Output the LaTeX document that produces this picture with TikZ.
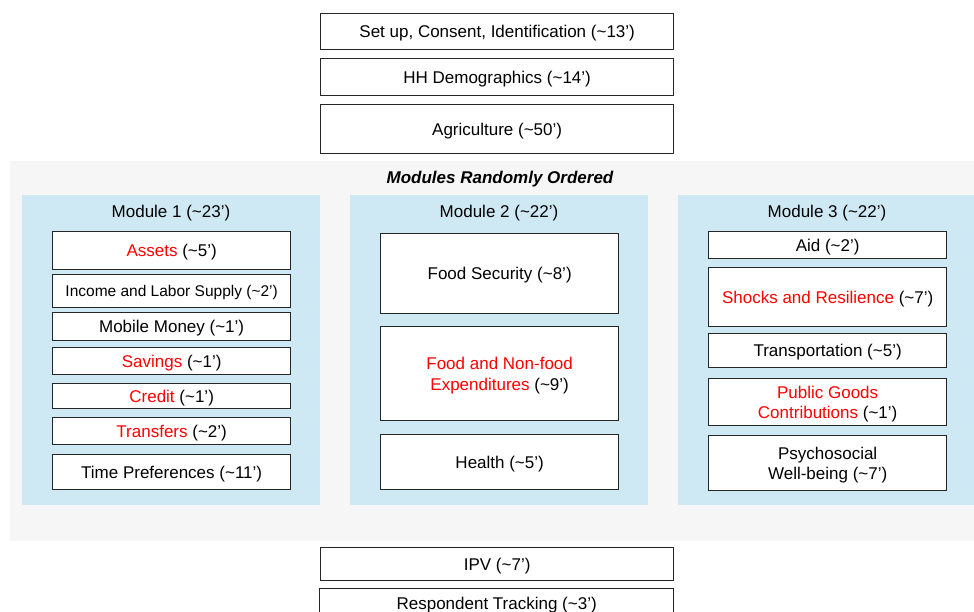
\documentclass[tikz,border=0pt]{standalone}
\usepackage{fontspec}
\setmainfont{Liberation Sans}
\usetikzlibrary{positioning}
\definecolor{panelblue}{RGB}{207,233,244}
\definecolor{shadegrey}{RGB}{246,246,246}
\tikzstyle{surveybox}=[draw=black!85, line width=1.3pt, fill=white, inner sep=0pt, text depth=0pt, align=center, anchor=north west, font=\fontsize{17}{20.5}\selectfont]
\tikzstyle{modulepanel}=[fill=panelblue, draw=none, inner sep=0pt, anchor=north west]
\tikzstyle{paneltitle}=[text depth=0pt, font=\fontsize{17}{20}\selectfont]
\newcommand{\surveymins}[1]{(\textasciitilde#1')}
\newcommand{\surveyitem}[6]{
\node[surveybox, minimum width=#4-#2, minimum height=#5-#3] (#1) at (#2,#3) {#6};
}
\newcommand{\modulepanel}[5]{
\node[modulepanel, minimum width=#4-#2, minimum height=#5-#3] (#1) at (#2,#3) {};
}

\begin{document}
\begin{tikzpicture}[x=1pt,y=-1pt]
	\clip (0,0) rectangle (974,612);
	\fill[white] (0,0) rectangle (974,612);
	% opening sections
	\surveyitem{setup}{320}{13}{673}{49}{Set up, Consent, Identification \surveymins{13}}
	\surveyitem{demog}{320}{58}{673}{95}{HH Demographics \surveymins{14}}
	\surveyitem{agri}{320}{104}{673}{153}{Agriculture \surveymins{50}}
	% randomised block
	\node[fill=shadegrey, inner sep=0pt, anchor=north west, minimum width=970, minimum height=380] (random) at (10,161) {};
	\node[paneltitle, font=\fontsize{17}{20}\selectfont\bfseries\itshape] (randtitle) at (500,177) {Modules Randomly Ordered};
	\modulepanel{modA}{22}{195}{320}{505}
	\modulepanel{modB}{350}{195}{648}{505}
	\modulepanel{modC}{678}{195}{980}{505}
	\node[paneltitle] (modAtitle) at (171,211) {Module 1 \surveymins{23}};
	\node[paneltitle] (modBtitle) at (499,211) {Module 2 \surveymins{22}};
	\node[paneltitle] (modCtitle) at (827,211) {Module 3 \surveymins{22}};
	% module 1
	\surveyitem{assets}{52}{231}{290}{269}{{\color{red}Assets} \surveymins{5}}
	\surveyitem{income}{52}{274}{290}{307}{\fontsize{15.5}{18}\selectfont Income and Labor Supply \surveymins{2}}
	\surveyitem{mobile}{52}{312}{290}{340}{Mobile Money \surveymins{1}}
	\surveyitem{savings}{52}{347}{290}{374}{{\color{red}Savings} \surveymins{1}}
	\surveyitem{credit}{52}{383}{290}{408}{{\color{red}Credit} \surveymins{1}}
	\surveyitem{transfers}{52}{417}{290}{444}{{\color{red}Transfers} \surveymins{2}}
	\surveyitem{timepref}{52}{454}{290}{489}{Time Preferences \surveymins{11}}
	% module 2
	\surveyitem{foodsec}{380}{233}{618}{313}{Food Security \surveymins{8}}
	\surveyitem{foodexp}{380}{326}{618}{420}{{\color{red}Food and Non-food}\\{\color{red}Expenditures} \surveymins{9}}
	\surveyitem{health}{380}{434}{618}{489}{Health \surveymins{5}}
	% module 3
	\surveyitem{aid}{708}{231}{946}{258}{Aid \surveymins{2}}
	\surveyitem{shocks}{708}{267}{946}{326}{{\color{red}Shocks and Resilience} \surveymins{7}}
	\surveyitem{transport}{708}{333}{946}{367}{Transportation \surveymins{5}}
	\surveyitem{pubgoods}{708}{378}{946}{425}{{\color{red}Public Goods}\\{\color{red}Contributions} \surveymins{1}}
	\surveyitem{psycho}{708}{435}{946}{490}{Psychosocial\\Well-being \surveymins{7}}
	% closing sections
	\surveyitem{ipv}{320}{547}{673}{580}{IPV \surveymins{7}}
	\surveyitem{tracking}{319}{588}{673}{630}{\raisebox{12pt}{Respondent Tracking \surveymins{3}}}
\end{tikzpicture}
\end{document}
